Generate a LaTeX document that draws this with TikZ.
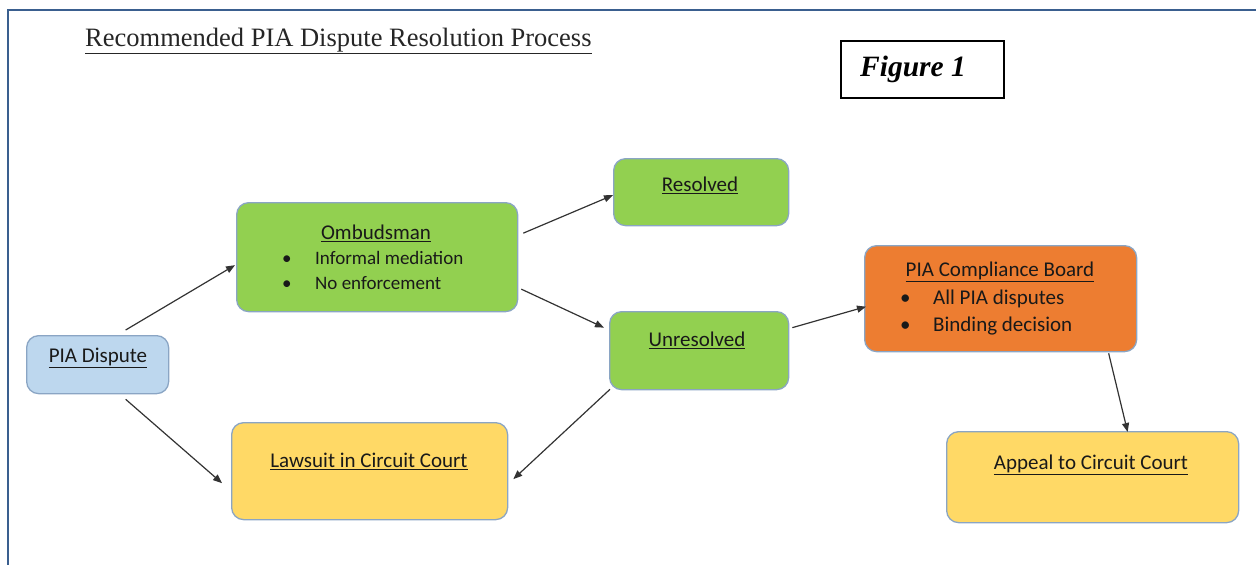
\documentclass[tikz,border=0pt]{standalone}
\usepackage{fontspec}
\setmainfont{Carlito}
\newfontfamily\seriffont{Liberation Serif}
\usetikzlibrary{arrows.meta,calc}
\definecolor{fblue}{HTML}{BDD7EE}
\definecolor{fgreen}{HTML}{92D050}
\definecolor{forange}{HTML}{ED7D31}
\definecolor{fyellow}{HTML}{FFD966}
\definecolor{bord}{HTML}{8AA5C4}
\definecolor{frame}{HTML}{3A5F8F}
\newcommand{\ul}[1]{\underline{#1}}
\tikzset{
  x=1pt,y=-1pt,
  boxnode/.style={draw=bord,line width=1.3pt,rounded corners=12pt,inner sep=0pt,anchor=north west},
  txt/.style={font=\fontsize{21}{23}\selectfont,inner sep=0pt,text=black!90},
  bul/.style={font=\fontsize{19}{21}\selectfont,inner sep=0pt,text=black!90,anchor=west},
  bulb/.style={bul,font=\fontsize{21}{23}\selectfont},
  arr/.style={draw=black!80,line width=1.2pt,-{Triangle[length=9pt,width=7pt]}},
}
\begin{document}
\begin{tikzpicture}
\useasboundingbox (0,0) rectangle (1256,565);
% frame
\draw[frame,line width=2pt] (8,565) -- (8,10) -- (1256,10);
% title
\node[inner sep=0pt,anchor=base west,font=\seriffont\fontsize{26.5}{28}\selectfont,text=black!85] (title) at (85,46) {\ul{Recommended PIA Dispute Resolution Process}};
% figure box
\node[draw=black,line width=2pt,minimum width=163pt,minimum height=57pt,inner sep=0pt,anchor=north west] (figbox) at (840,40) {};
\node[inner sep=0pt,font=\seriffont\bfseries\itshape\fontsize{29.5}{30}\selectfont] (figtxt) at (913,69) {Figure 1};
% boxes
\node[boxnode,fill=fblue,minimum width=142pt,minimum height=58pt] (pia) at (26,335) {};
\node[boxnode,fill=fgreen,minimum width=281pt,minimum height=109pt] (omb) at (236,202) {};
\node[boxnode,fill=fgreen,minimum width=175pt,minimum height=67pt] (res) at (613,158) {};
\node[boxnode,fill=fgreen,minimum width=179pt,minimum height=78pt] (unres) at (609,311) {};
\node[boxnode,fill=forange,minimum width=272pt,minimum height=106pt] (pcb) at (864,245) {};
\node[boxnode,fill=fyellow,minimum width=276pt,minimum height=97pt] (law) at (231,422) {};
\node[boxnode,fill=fyellow,minimum width=292pt,minimum height=91pt] (app) at (946,431) {};
% texts
\node[txt] (piaT) at (98,358) {\ul{PIA Dispute}};
\node[txt] (ombT) at (376,233) {\ul{Ombudsman}};
\node[bul] (ombB1) at (282,258) {\makebox[33pt][l]{•}Informal mediation};
\node[bul] (ombB2) at (282,283) {\makebox[33pt][l]{•}No enforcement};
\node[txt] (resT) at (700,185) {\ul{Resolved}};
\node[txt] (unresT) at (697,340) {\ul{Unresolved}};
\node[txt] (pcbT) at (1000,272) {\ul{PIA Compliance Board}};
\node[bulb] (pcbB1) at (900,299) {\makebox[33pt][l]{•}All PIA disputes};
\node[bulb] (pcbB2) at (900,326) {\makebox[33pt][l]{•}Binding decision};
\node[txt] (lawT) at (369,461) {\ul{Lawsuit in Circuit Court}};
\node[txt] (appT) at (1091,465) {\ul{Appeal to Circuit Court}};
% arrows
\draw[arr] ([xshift=28pt,yshift=5pt]pia.north) -- ([xshift=-1pt,yshift=-8pt]omb.west);
\draw[arr] ([xshift=28pt,yshift=-5pt]pia.south) -- ([xshift=-9pt,yshift=-12pt]law.west);
\draw[arr] ([xshift=5pt,yshift=24pt]omb.east) -- ([yshift=-3pt]res.west);
\draw[arr] ([xshift=3pt,yshift=-32pt]omb.east) -- ([xshift=-5pt,yshift=23pt]unres.west);
\draw[arr] ([xshift=1pt,yshift=1pt]unres.south west) -- ([xshift=5pt,yshift=-8pt]law.east);
\draw[arr] ([xshift=3pt,yshift=23pt]unres.east) -- ([xshift=2pt,yshift=-8pt]pcb.west);
\draw[arr] ([xshift=108pt,yshift=-1pt]pcb.south) -- ([xshift=35pt,yshift=-1pt]app.north);
\end{tikzpicture}
\end{document}
